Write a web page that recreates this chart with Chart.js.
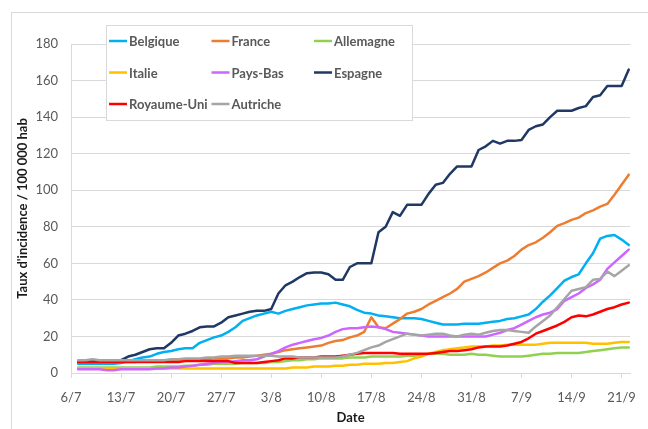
<!DOCTYPE html>
<html lang="fr">
<head>
<meta charset="UTF-8">
<title>Taux d'incidence / 100 000 hab</title>
<script src="https://cdn.jsdelivr.net/npm/chart.js"></script>
<style>
    html, body {
        margin: 0;
        padding: 0;
        background: #fff;
        overflow: hidden;
    }
    .wrap {
        position: relative;
        width: 648px;
        height: 429px;
    }
</style>
</head>
<body>
<div class="wrap"><canvas id="incidence" width="648" height="429"></canvas></div>
<script>
// daily values from 7/7 onward (x = days after 6/7)
const tickLabels = ['6/7', '13/7', '20/7', '27/7', '3/8', '10/8', '17/8', '24/8', '31/8', '7/9', '14/9', '21/9'];

const belgique = [5, 5, 5, 5, 5, 5, 5.5, 6.5, 7.5, 8.5, 9, 10.5, 11.5, 12, 13, 13.5, 13.5, 16.5, 18, 19.5,
    20.5, 22.5, 25, 28.5, 30, 31.5, 32.5, 33.5, 32.5, 34, 35, 36, 37, 37.5, 38, 38, 38.5, 37.5, 36.5, 34.5,
    33, 32.5, 31.5, 31, 30.5, 30, 30, 30, 29.5, 28.5, 27.5, 26.5, 26.5, 26.5, 27, 27, 27, 27.5, 28, 28.5,
    29.5, 30, 31, 32, 35, 39, 42.5, 46.5, 50.5, 52.5, 54, 60, 65.5, 73.5, 75, 75.5, 73, 70];
const france = [6, 6, 6, 6, 6, 6, 6, 6, 6, 6.5, 6.5, 6.5, 7, 7, 7, 7, 7.5, 7.5, 7.5, 8,
    8, 8, 8.5, 8.5, 9, 9.5, 10, 10.5, 11.5, 12.5, 13, 13.5, 14, 14.5, 15, 16.5, 17.5, 18, 19.5, 20.5,
    22.5, 30.5, 25, 24.5, 27, 29.5, 32.5, 33.5, 35, 37.5, 39.5, 41.5, 43.5, 46, 50, 51.5, 53, 55, 57.5, 60,
    61.5, 64, 67.5, 70, 71.5, 74, 77, 80.5, 82, 83.8, 85, 87.5, 89, 91, 92.5, 97.5, 103, 108.5];
const allemagne = [3, 3, 3, 3, 3, 3, 3, 3, 3, 3, 3, 3.5, 3.5, 3.5, 3.5, 4, 4, 4.5, 4.5, 5,
    5, 5, 5, 5.5, 5.5, 5.5, 5.5, 6, 6, 6.5, 7, 7, 7.5, 7.5, 8, 8, 8, 8, 8.5, 8.5,
    8.5, 9, 9, 9, 9, 9, 9.5, 9.5, 10, 10.5, 10.5, 10.5, 10, 10, 10, 10.5, 10, 10, 9.5, 9,
    9, 9, 9, 9.5, 10, 10.5, 10.5, 11, 11, 11, 11, 11.5, 12, 12.5, 13, 13.5, 14, 14];
const italie = [2.5, 2.5, 2.5, 2.5, 2.5, 2.5, 2.5, 2.5, 2.5, 2.5, 2.5, 2.5, 2.5, 2.5, 2.5, 2.5, 2.5, 2.5, 2.5, 2.5,
    2.5, 2.5, 2.5, 2.5, 2.5, 2.5, 2.5, 2.5, 2.5, 2.5, 3, 3, 3, 3.5, 3.5, 3.5, 4, 4, 4.5, 4.5,
    5, 5, 5, 5.5, 5.5, 6, 6.5, 8, 9, 10.5, 11.5, 12.5, 13, 13.5, 14, 14.5, 14.5, 14.5, 15, 15,
    15.5, 15.5, 15.5, 15.5, 15.5, 16, 16.5, 16.5, 16.5, 16.5, 16.5, 16.5, 16, 16, 16, 16.5, 17, 17];
const paysBas = [2, 2, 2, 2, 1.5, 1.5, 2, 2, 2, 2, 2, 2.5, 2.5, 3, 3, 3.5, 4, 4.5, 5, 5.5,
    6, 6, 6.5, 7, 7, 7.5, 9, 10.5, 12, 14, 15.5, 16.5, 17.5, 18.5, 19.2, 20.5, 22.5, 24, 24.5, 24.5,
    25, 25.5, 25, 24, 22.5, 22, 21.5, 21, 20.5, 20, 20, 20, 20, 20, 20, 20, 20, 20, 21, 22,
    23.5, 24.5, 26.5, 28.5, 30.5, 32, 33, 35, 39.5, 41.5, 43.5, 46.5, 48.5, 51, 57, 60.5, 64, 67.5];
const espagne = [6.5, 6.5, 6.5, 6.5, 6.5, 6.5, 7, 9, 10, 11.5, 13, 13.5, 13.5, 16.5, 20.5, 21.5, 23, 25, 25.5, 25.5,
    27.5, 30.5, 31.5, 32.5, 33.5, 34, 34, 35, 43.5, 48, 50, 52.5, 54.6, 55, 55, 54, 51, 51, 58, 60,
    60, 60, 77, 80, 88, 86, 92, 92, 92, 98, 103, 104, 109, 113, 113, 113, 122, 124, 127, 125.5,
    127, 127, 127.5, 133, 135, 136, 140, 143.5, 143.5, 143.5, 145, 146, 151, 152, 157, 157, 157, 166];
const royaumeUni = [6, 6, 6, 6, 6, 6, 6, 6, 6, 6, 6, 6, 6, 6, 6, 6.5, 6.5, 6.5, 6.5, 6.5,
    6.5, 6.5, 5.5, 5.5, 5.5, 5.5, 6, 6.5, 7, 8, 8, 8.5, 8.5, 8.5, 9, 9, 9, 9.5, 10, 10.5,
    11, 11, 11, 11, 11, 10.5, 10.5, 10.5, 10.5, 10.5, 11, 11.5, 12, 12, 12.5, 13, 14, 14.5, 14.5, 14.5,
    15, 16, 17, 19, 21.5, 23, 24.5, 26, 28, 30.5, 31.5, 31, 32, 33.5, 35, 36, 37.5, 38.5];
const autriche = [7, 7, 7.5, 7, 7, 7, 7, 7, 7, 7, 7, 7, 7, 7.5, 7.5, 8, 8, 8, 8.5, 8.5,
    9, 9, 9.5, 9.5, 9.5, 9.5, 9.5, 9.5, 9, 9, 9, 8.5, 8.5, 8.5, 8.5, 8.5, 8.5, 9, 10, 11,
    12.5, 14, 15, 17, 18.5, 20, 21.5, 21, 20.5, 21, 21.5, 21.5, 20.5, 20, 21, 21.5, 21, 22, 23, 23.5,
    23.5, 23, 22.5, 22, 25.5, 28.5, 31.5, 36, 40.5, 45, 46, 47, 51, 51.5, 55.5, 53, 56, 59];

const seriesNames = ['Belgique', 'France', 'Allemagne', 'Italie', 'Pays-Bas', 'Espagne', 'Royaume-Uni', 'Autriche'];
const seriesData = [belgique, france, allemagne, italie, paysBas, espagne, royaumeUni, autriche];
const seriesColors = ['#00b0f0', '#ed7d31', '#92d050', '#ffc000', '#cc66ff', '#1f3864', '#ff0000', '#a5a5a5'];

const FONT = 'Lato, "Open Sans", sans-serif';
const GRID = '#d9d9d9';

// thin frame round the whole chart
const framePlugin = {
    id: 'frame',
    beforeDraw(chart) {
        const ctx = chart.ctx;
        ctx.save();
        ctx.strokeStyle = GRID;
        ctx.lineWidth = 1;
        ctx.strokeRect(11.5, 12.5, 800, 600);
        ctx.restore();
    }
};

// boxed legend laid out in three columns inside the plot
const boxLegend = {
    id: 'boxLegend',
    afterDraw(chart) {
        const ctx = chart.ctx;
        ctx.save();
        ctx.fillStyle = '#fff';
        ctx.fillRect(106.5, 25.5, 306, 95);
        ctx.strokeStyle = GRID;
        ctx.lineWidth = 1;
        ctx.strokeRect(106.5, 25.5, 306, 95);
        ctx.font = 'bold 13px ' + FONT;
        ctx.textBaseline = 'middle';
        chart.data.datasets.forEach((ds, i) => {
            const x = 109 + (i % 3) * 102.5;
            const y = 41 + Math.floor(i / 3) * 31.5;
            ctx.strokeStyle = ds.borderColor;
            ctx.lineWidth = 2.5;
            ctx.beginPath();
            ctx.moveTo(x, y);
            ctx.lineTo(x + 18, y);
            ctx.stroke();
            ctx.fillStyle = '#595959';
            ctx.fillText(ds.label, x + 20, y + 1);
        });
        ctx.restore();
    }
};

const datasets = seriesNames.map((name, i) => ({
    label: name,
    data: seriesData[i].map((v, d) => ({ x: d + 1, y: v })),
    borderColor: seriesColors[i],
    backgroundColor: seriesColors[i],
    borderWidth: 2.5,
    pointRadius: 0,
    tension: 0,
    borderJoinStyle: 'round',
    borderCapStyle: 'round',
    order: seriesNames.length - i
}));

new Chart(document.getElementById('incidence'), {
    type: 'line',
    data: { datasets },
    options: {
        responsive: false,
        animation: false,
        devicePixelRatio: 1,
        layout: { padding: { left: 12, right: 9, top: 44, bottom: 0 } },
        plugins: {
            legend: { display: false },
            tooltip: { enabled: false }
        },
        scales: {
            x: {
                type: 'linear',
                min: 0,
                max: 78.2,
                afterBuildTicks: scale => {
                    scale.ticks = tickLabels.map((_, i) => ({ value: i * 7 }));
                },
                afterFit: scale => { scale.height = 56; },
                ticks: {
                    autoSkip: false,
                    maxRotation: 0,
                    padding: 12,
                    color: '#595959',
                    font: { family: FONT, size: 13 },
                    callback: value => tickLabels[value / 7]
                },
                grid: { drawOnChartArea: false, drawTicks: true, tickLength: 5, color: GRID },
                border: { display: true, color: GRID },
                title: {
                    display: true,
                    text: 'Date',
                    color: '#1a1a1a',
                    font: { family: FONT, size: 13, weight: 'bold' },
                    padding: { top: 0, bottom: 3 }
                }
            },
            y: {
                min: 0,
                max: 180,
                afterFit: scale => { scale.width = 59; },
                ticks: {
                    stepSize: 20,
                    padding: 13,
                    color: '#595959',
                    font: { family: FONT, size: 13 }
                },
                grid: { color: GRID, drawTicks: false },
                border: { display: true, color: GRID },
                title: {
                    display: true,
                    text: "Taux d'incidence / 100 000 hab",
                    color: '#1a1a1a',
                    font: { family: FONT, size: 13, weight: 'bold' },
                    padding: { top: 3, bottom: 0 }
                }
            }
        }
    },
    plugins: [framePlugin, boxLegend]
});
</script>
</body>
</html>
